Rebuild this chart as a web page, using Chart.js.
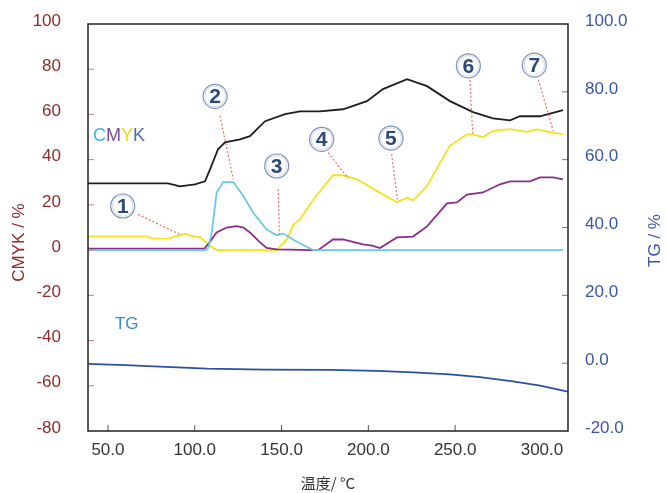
<!DOCTYPE html>
<html>
<head>
<meta charset="utf-8">
<script src="https://cdn.jsdelivr.net/npm/chart.js@4.4.0/dist/chart.umd.min.js"></script>
<style>
  html, body { margin: 0; padding: 0; background: #fff; }
  #wrap { width: 666px; height: 493px; }
</style>
</head>
<body>
<div id="wrap"><canvas id="c"></canvas></div>
<script>
// K (black)
const kTemp = [38.5, 84.6, 91.5, 100.1, 105.9, 108.8, 113.4, 117.4, 126.1, 131.8, 140.5, 152.0, 160.6, 172.1, 185.4, 199.2, 208.4, 222.3, 233.8, 247.0, 260.3, 271.8, 281.6, 287.3, 298.9, 312.1];
const kVal  = [29.5, 29.5, 28.2, 29.1, 30.4, 35.7, 44.6, 47.7, 49.0, 50.4, 57.0, 60.1, 61.4, 61.4, 62.3, 65.9, 71.2, 75.6, 72.5, 65.9, 61.0, 58.3, 57.4, 59.2, 59.2, 61.9];
// C (cyan)
const cTemp = [38.5, 106.5, 107.8, 109.8, 112.6, 116.4, 122.2, 128.0, 133.7, 141.4, 147.2, 151.0, 156.8, 166.4, 168.3, 312.1];
const cVal  = [0, 0, 1.0, 7.7, 25.4, 30.1, 30.1, 23.9, 16.5, 9.1, 6.6, 7.3, 4.6, 0.7, 0, 0];
// M (magenta)
const mTemp = [38.5, 105.5, 107.6, 112.6, 118.4, 124.2, 128.0, 131.8, 137.6, 141.4, 147.2, 168.1, 171.0, 179.6, 185.4, 196.9, 202.1, 206.7, 216.5, 225.7, 233.8, 245.3, 251.0, 256.8, 266.0, 275.8, 281.6, 293.1, 298.9, 306.4, 312.1];
const mVal  = [0.7, 0.7, 2.5, 7.8, 10.0, 10.6, 10.0, 7.8, 3.4, 1.0, 0.3, 0, 0, 4.7, 4.7, 2.5, 2.0, 0.9, 5.6, 6.0, 10.5, 20.7, 21.1, 24.6, 25.5, 29.1, 30.4, 30.4, 32.2, 32.2, 31.3];
// Y (yellow)
const yTemp = [38.5, 72.3, 75.9, 84.6, 91.5, 94.4, 99.0, 103.0, 108.8, 112.6, 147.2, 153.0, 156.8, 160.6, 168.3, 179.6, 185.4, 193.5, 205.0, 216.5, 222.3, 225.7, 233.8, 241.3, 247.0, 256.8, 260.3, 266.0, 271.8, 281.6, 291.4, 297.2, 302.9, 312.1];
const yVal  = [6.1, 6.1, 5.1, 5.1, 6.6, 7.3, 6.1, 5.8, 1.9, 0, 0, 4.7, 11.3, 13.6, 22.4, 33.1, 33.1, 31.3, 26.1, 21.2, 23.2, 22.0, 28.3, 38.7, 46.1, 51.2, 51.2, 50.0, 52.7, 53.5, 52.3, 53.5, 52.4, 51.2];
// TG (right axis)
const tgTemp = [38.7, 60, 80, 106.9, 140, 177.9, 205, 225.7, 247, 264.3, 283.3, 298.9, 315];
const tgVal  = [-0.2, -0.6, -1.0, -1.6, -1.9, -2.0, -2.3, -2.7, -3.3, -4.1, -5.4, -6.6, -8.4];

const xTicks = [50, 100, 150, 200, 250, 300];

// numbered callouts (temperature, CMYK %)
const calloutNum = ['1', '2', '3', '4', '5', '6', '7'];
const calloutX = [58.5, 111.7, 147.2, 173.1, 213.0, 257.6, 295.6];
const calloutY = [19.5, 68.0, 37.2, 49.0, 49.5, 81.5, 81.8];
const leaderFromX = [67.3, 114.5, 148.1, 176.9, 213.4, 258.5, 297.9];
const leaderFromY = [15.8, 59.4, 26.9, 43.1, 42.4, 75.3, 75.3];
const leaderToX = [92.5, 122.2, 148.7, 188.4, 216.7, 260.1, 306.5];
const leaderToY = [6.6, 31.3, 6.9, 31.6, 22.4, 51.7, 52.7];

const FONT = "'Liberation Sans', Arial, sans-serif";
const RED = '#8e2b2b';
const BLUE = '#3c56a5';

function zip(xs, ys) {
    return xs.map((x, i) => ({ x: x, y: ys[i] }));
}

function series(xs, ys, color, axis) {
    return {
        data: zip(xs, ys),
        borderColor: color,
        borderWidth: 1.8,
        pointRadius: 0,
        tension: 0,
        yAxisID: axis
    };
}

// fixed axis box sizes so the plot frame sits where the original's does
function fitY(width) {
    return s => { s.width = width; s.paddingTop = 4; s.paddingBottom = 4; };
}

const decor = {
    id: 'decor',
    afterDatasetsDraw(chart) {
        const { ctx, chartArea: a, scales } = chart;
        const sx = scales.x, sy = scales.y, sy2 = scales.y2;
        ctx.save();

        // inner tick marks
        ctx.lineWidth = 1;
        ctx.strokeStyle = '#c98080';
        for (let v = -60; v <= 80; v += 20) {
            const p = sy.getPixelForValue(v);
            ctx.beginPath(); ctx.moveTo(a.left, p); ctx.lineTo(a.left + 6, p); ctx.stroke();
        }
        ctx.strokeStyle = '#6677b5';
        for (let v = 0; v <= 80; v += 20) {
            const p = sy2.getPixelForValue(v);
            ctx.beginPath(); ctx.moveTo(a.right - 6, p); ctx.lineTo(a.right, p); ctx.stroke();
        }
        ctx.strokeStyle = '#555';
        xTicks.slice(0, -1).forEach(v => {
            const p = sx.getPixelForValue(v);
            ctx.beginPath(); ctx.moveTo(p, a.bottom); ctx.lineTo(p, a.bottom - 6); ctx.stroke();
        });

        // frame
        ctx.strokeStyle = '#222';
        ctx.lineWidth = 1.5;
        ctx.strokeRect(a.left, a.top, a.right - a.left, a.bottom - a.top);

        // leader lines
        ctx.strokeStyle = '#f06060';
        ctx.lineWidth = 1.1;
        ctx.setLineDash([2, 2]);
        calloutNum.forEach((n, i) => {
            ctx.beginPath();
            ctx.moveTo(sx.getPixelForValue(leaderFromX[i]), sy.getPixelForValue(leaderFromY[i]));
            ctx.lineTo(sx.getPixelForValue(leaderToX[i]), sy.getPixelForValue(leaderToY[i]));
            ctx.stroke();
        });
        ctx.setLineDash([]);

        // circled numbers
        calloutNum.forEach((n, i) => {
            const cx = sx.getPixelForValue(calloutX[i]);
            const cy = sy.getPixelForValue(calloutY[i]);
            ctx.beginPath();
            ctx.arc(cx, cy, 12, 0, Math.PI * 2);
            ctx.fillStyle = '#fff';
            ctx.fill();
            ctx.strokeStyle = '#7d93b8';
            ctx.lineWidth = 1.2;
            ctx.stroke();
            ctx.beginPath();
            ctx.arc(cx, cy, 10.3, 0, Math.PI * 2);
            ctx.strokeStyle = '#d3dcea';
            ctx.lineWidth = 1;
            ctx.stroke();
            ctx.fillStyle = '#2b4a7a';
            ctx.font = 'bold 21px ' + FONT;
            ctx.textAlign = 'center';
            ctx.textBaseline = 'middle';
            ctx.fillText(n, cx, cy + 1);
        });

        // series labels
        ctx.font = '18px ' + FONT;
        ctx.textAlign = 'left';
        ctx.textBaseline = 'middle';
        let lx = sx.getPixelForValue(41.4);
        const ly = sy.getPixelForValue(50.5);
        [['C', '#3cb4e6'], ['M', '#7a4a9a'], ['Y', '#e8dc20'], ['K', '#4a6fa0']].forEach(([ch, col]) => {
            ctx.fillStyle = col;
            ctx.fillText(ch, lx, ly);
            lx += ctx.measureText(ch).width;
        });
        ctx.fillStyle = '#3a8ac8';
        ctx.font = '17px ' + FONT;
        ctx.fillText('TG', sx.getPixelForValue(54), sy.getPixelForValue(-33));

        // axis titles (both read bottom to top)
        const midY = (a.top + a.bottom) / 2 + 15;
        ctx.font = '17px ' + FONT;
        ctx.textAlign = 'center';
        ctx.fillStyle = RED;
        ctx.save(); ctx.translate(19, midY); ctx.rotate(-Math.PI / 2); ctx.fillText('CMYK / %', 0, 0); ctx.restore();
        ctx.fillStyle = BLUE;
        ctx.save(); ctx.translate(655, midY - 2); ctx.rotate(-Math.PI / 2); ctx.fillText('TG / %', 0, 0); ctx.restore();

        ctx.restore();
    }
};

new Chart(document.getElementById('c'), {
    type: 'line',
    data: {
        datasets: [
            series(tgTemp, tgVal, '#2b4fa8', 'y2'),
            series(cTemp, cVal, '#6cc9e0', 'y'),
            series(mTemp, mVal, '#8a2c8c', 'y'),
            series(yTemp, yVal, '#f2e41c', 'y'),
            series(kTemp, kVal, '#1e1e1e', 'y')
        ]
    },
    options: {
        responsive: true,
        maintainAspectRatio: false,
        animation: false,
        layout: { padding: { top: 24, left: 0, right: 0, bottom: 0 } },
        plugins: { legend: { display: false }, tooltip: { enabled: false } },
        scales: {
            x: {
                type: 'linear',
                min: 38.5, max: 315,
                afterBuildTicks: s => { s.ticks = xTicks.map(v => ({ value: v })); },
                afterFit: s => { s.height = 62; },
                grid: { display: false },
                border: { display: false },
                ticks: {
                    color: '#333', padding: 1,
                    font: { family: FONT, size: 17 },
                    callback: v => v.toFixed(1)
                },
                title: {
                    display: true, text: '温度/ °C', color: '#333',
                    font: { family: "'Noto Sans CJK JP', " + FONT, size: 15 },
                    padding: { top: 4, bottom: 1 }
                }
            },
            y: {
                position: 'left',
                min: -80, max: 100,
                afterFit: fitY(88),
                grid: { display: false },
                border: { display: false },
                ticks: {
                    stepSize: 20, color: RED, padding: 19, labelOffset: -3,
                    font: { family: FONT, size: 17 }
                }
            },
            y2: {
                position: 'right',
                min: -20, max: 100,
                afterFit: fitY(98),
                grid: { display: false },
                border: { display: false },
                ticks: {
                    stepSize: 20, color: BLUE, padding: 9, labelOffset: -3,
                    font: { family: FONT, size: 17 },
                    callback: v => v.toFixed(1)
                }
            }
        }
    },
    plugins: [decor]
});
</script>
</body>
</html>
